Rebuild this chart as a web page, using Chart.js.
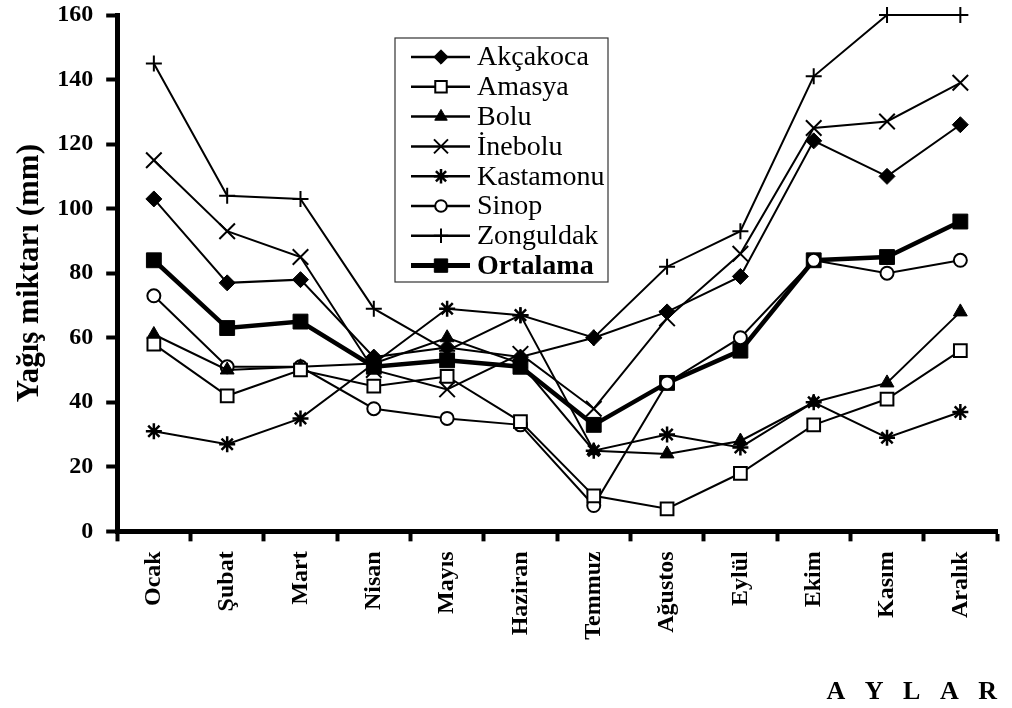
<!DOCTYPE html>
<html>
<head>
<meta charset="utf-8">
<script src="https://cdn.jsdelivr.net/npm/chart.js@4"></script>
<style>
  body { margin: 0; background: #fff; }
  #wrap { width: 1012px; height: 708px; }
</style>
</head>
<body>
<div id="wrap"><canvas id="rainChart"></canvas></div>
<script>
// Aylar
const months = ["Ocak", "Şubat", "Mart", "Nisan", "Mayıs", "Haziran", "Temmuz", "Ağustos", "Eylül", "Ekim", "Kasım", "Aralık"];
const yTicks = [0, 20, 40, 60, 80, 100, 120, 140, 160];

// Yağış miktarı (mm)
const akcakoca  = [103, 77, 78, 54, 57, 54, 60, 68, 79, 121, 110, 126];
const amasya    = [58, 42, 50, 45, 48, 34, 11, 7, 18, 33, 41, 56];
const bolu      = [61, 50, 51, 52, 60, 52, 25, 24, 28, 40, 46, 68];
const inebolu   = [115, 93, 85, 50, 44, 55, 38, 66, 86, 125, 127, 139];
const kastamonu = [31, 27, 35, 52, 69, 67, 25, 30, 26, 40, 29, 37];
const sinop     = [73, 51, 51, 38, 35, 33, 8, 46, 60, 84, 80, 84];
const zonguldak = [145, 104, 103, 69, 56, 67, 60, 82, 93, 141, 160, 160];
const ortalama  = [84, 63, 65, 51, 53, 51, 33, 46, 56, 84, 85, 96];

const FONT = "'Liberation Serif', 'Times New Roman', serif";

function series(label, data, style, radius, fill, lineW, ptW) {
    return {
        label: label,
        data: data,
        borderColor: "#000",
        borderWidth: lineW,
        pointStyle: style,
        pointRadius: radius,
        pointBackgroundColor: fill,
        pointBorderColor: "#000",
        pointBorderWidth: ptW,
        tension: 0,
        clip: false
    };
}

const datasets = [
    series("Akçakoca", akcakoca, "rectRot", 8, "#000", 2, 1),
    series("Amasya", amasya, "rect", 9, "#fff", 2, 2),
    series("Bolu", bolu, "triangle", 8, "#000", 2, 1),
    series("İnebolu", inebolu, "crossRot", 11, "#000", 2, 2),
    series("Kastamonu", kastamonu, "star", 8, "#000", 2, 2.5),
    series("Sinop", sinop, "circle", 6.5, "#fff", 2, 2),
    series("Zonguldak", zonguldak, "cross", 8, "#000", 2, 2),
    series("Ortalama", ortalama, "rect", 10.5, "#000", 4.5, 1)
];

// legend box drawn inside the plot, line + marker like the original
const boxLegend = {
    id: "boxLegend",
    afterDraw(chart) {
        const ctx = chart.ctx;
        const x0 = 395, y0 = 38, w = 213, h = 244;
        ctx.save();
        ctx.fillStyle = "#fff";
        ctx.fillRect(x0, y0, w, h);
        ctx.strokeStyle = "#333";
        ctx.lineWidth = 1.2;
        ctx.strokeRect(x0, y0, w, h);
        chart.data.datasets.forEach((ds, i) => {
            const y = 57 + i * 29.8;
            ctx.strokeStyle = "#000";
            ctx.lineWidth = ds.borderWidth + 0.5;
            ctx.beginPath();
            ctx.moveTo(411, y);
            ctx.lineTo(470, y);
            ctx.stroke();
            ctx.fillStyle = ds.pointBackgroundColor;
            ctx.strokeStyle = "#000";
            ctx.lineWidth = ds.pointBorderWidth;
            Chart.helpers.drawPoint(ctx, {
                pointStyle: ds.pointStyle,
                radius: ds.pointRadius * 0.9,
                borderWidth: ds.pointBorderWidth
            }, 441, y);
            ctx.fillStyle = "#000";
            ctx.font = (i === 7 ? "bold " : "") + "28px " + FONT;
            ctx.textBaseline = "middle";
            ctx.fillText(ds.label, 477, y + 1);
        });
        ctx.restore();
    }
};

new Chart(document.getElementById("rainChart"), {
    type: "line",
    data: { labels: months, datasets: datasets },
    options: {
        responsive: true,
        maintainAspectRatio: false,
        animation: false,
        events: [],
        layout: { padding: { left: 11, right: 15, top: 0, bottom: 0 } },
        plugins: { legend: { display: false }, tooltip: { enabled: false } },
        scales: {
            x: {
                type: "category",
                offset: true,
                border: { color: "#000", width: 5 },
                grid: { offset: true, drawOnChartArea: false, drawTicks: true, tickLength: 10, tickWidth: 4, tickColor: "#000" },
                ticks: { color: "#000", font: { family: FONT, size: 24, weight: "bold" }, minRotation: 90, maxRotation: 90, autoSkip: false, padding: 10 },
                title: { display: true, text: "A   Y   L   A   R", align: "end", color: "#000", font: { family: FONT, size: 26, weight: "bold" }, padding: { top: 27, bottom: 0 } }
            },
            y: {
                min: yTicks[0],
                max: yTicks[yTicks.length - 1],
                border: { color: "#000", width: 5 },
                grid: { drawOnChartArea: false, drawTicks: true, tickLength: 11, tickWidth: 4, tickColor: "#000" },
                ticks: { stepSize: 20, color: "#000", font: { family: FONT, size: 24, weight: "bold" }, padding: 13 },
                afterBuildTicks(scale) { scale.ticks = yTicks.map(v => ({ value: v })); },
                afterFit(scale) { scale.paddingTop = 15; },
                title: { display: true, text: "Yağış miktarı (mm)", color: "#000", font: { family: FONT, size: 31, weight: "bold" }, padding: { top: 0, bottom: -4 } }
            }
        }
    },
    plugins: [boxLegend]
});
</script>
</body>
</html>
